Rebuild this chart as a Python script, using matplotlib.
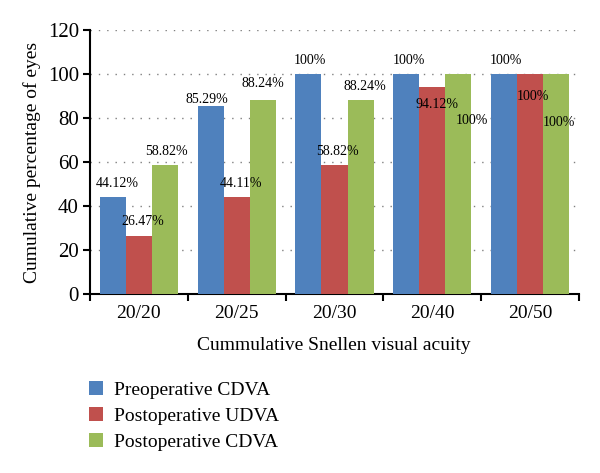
import numpy as np
import matplotlib
matplotlib.use("Agg")
import matplotlib.pyplot as plt

# data
categories = ["20/20", "20/25", "20/30", "20/40", "20/50"]
pre_cdva = [44.12, 85.29, 100, 100, 100]
post_udva = [26.47, 44.11, 58.82, 94.12, 100]
post_cdva = [58.82, 88.24, 88.24, 100, 100]
pre_cdva_labels = ["44.12%", "85.29%", "100%", "100%", "100%"]
post_udva_labels = ["26.47%", "44.11%", "58.82%", "94.12%", "100%"]
post_cdva_labels = ["58.82%", "88.24%", "88.24%", "100%", "100%"]

# label placement (pixel offsets from bar top), mimicking the original
pre_off = [(4, 13), (-4, 7), (2, 13), (3, 13), (2, 13)]
udva_off = [(4, 14), (4, 13), (3, 13), (5, -18), (3, -22)]
cdva_off = [(1, 13), (0, 16), (4, 13), (14, -47), (3, -49)]

plt.rcParams['font.family'] = ['Liberation Serif', 'DejaVu Serif']

fig = plt.figure(figsize=(6, 4.73), dpi=100)
ax = fig.add_axes([0.15, 1 - 294 / 473, (579 - 90) / 600, (294 - 30) / 473])

x = np.arange(len(categories))
w = 0.8 / 3
series = [
    (pre_cdva, pre_cdva_labels, pre_off, "#4F81BD", "Preoperative CDVA"),
    (post_udva, post_udva_labels, udva_off, "#C0504D", "Postoperative UDVA"),
    (post_cdva, post_cdva_labels, cdva_off, "#9BBB59", "Postoperative CDVA"),
]
handles = []
for k, (vals, labs, offs, col, name) in enumerate(series):
    xs = x + (k - 1) * w
    b = ax.bar(xs, vals, width=w, color=col, label=name, zorder=3)
    handles.append(b)
    for xi, v, lab, (dx, dy) in zip(xs, vals, labs, offs):
        ax.annotate(lab, (xi, v), xytext=(dx, dy), textcoords="offset pixels",
                    ha="center", va="center", fontsize=10, zorder=5)

ax.set_xlim(-0.5, len(categories) - 0.5)
ax.set_ylim(0, 120)
ax.set_yticks(np.arange(0, 121, 20))
ax.set_xticks(np.arange(-0.5, len(categories), 1))
ax.set_xticklabels([])
ax.set_xticks(x, minor=True)
ax.set_xticklabels(categories, minor=True)
ax.tick_params(axis="x", which="minor", length=0, pad=8, labelsize=14)
ax.tick_params(axis="x", which="major", length=5, width=1.5, direction="out")
ax.tick_params(axis="y", length=5, width=1.5, direction="out", labelsize=15, pad=3)

ax.yaxis.grid(True, linestyle=(0, (1, 5)), color="#808080", linewidth=1, zorder=0)
for s in ["top", "right"]:
    ax.spines[s].set_visible(False)
for s in ["left", "bottom"]:
    ax.spines[s].set_linewidth(1.5)

ax.set_ylabel("Cumulative percentage of eyes", fontsize=14, labelpad=5)
fig.text(334 / 600, 1 - 345 / 473, "Cummulative Snellen visual acuity",
         ha="center", va="center", fontsize=14)

fig.legend(handles=handles, loc="upper left", bbox_to_anchor=(0.148, 1 - 381 / 473),
           frameon=False, fontsize=14, handlelength=0.75, handleheight=0.75,
           handletextpad=0.55, labelspacing=0.42, borderpad=0, borderaxespad=0)

fig.savefig("out.png", dpi=100)
